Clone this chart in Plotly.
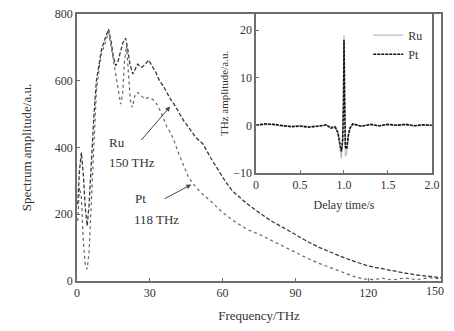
import plotly.graph_objects as go

# Main spectrum data (frequency THz, amplitude a.u.)
ru_freq = [0.3, 1.0, 1.8, 2.6, 3.4, 4.2, 5.0, 6.0, 7.0, 8.0, 9.0, 10.0, 11.0, 12.0, 13.0, 14.0, 15.0, 16.0, 17.0,
           18.0, 19.0, 20.0, 20.8, 21.8, 23.0, 24.0, 25.0, 26.5, 28.0, 29.5, 31.0, 32.5, 34.0, 35.5, 37.0, 38.5,
           40.0, 42.0, 44.0, 46.5, 49.0, 52.0, 55.0, 58.0, 61.0, 64.0, 67.0, 70.0, 75.0, 80.0, 85.0, 90.0, 95.0,
           100.0, 105.0, 110.0, 115.0, 120.0, 125.0, 130.0, 135.0, 140.0, 145.0, 150.0]
ru_amp = [230, 330, 385, 320, 220, 165, 230, 380, 500, 600, 650, 690, 715, 735, 755, 720, 670, 645, 660,
          690, 715, 728, 700, 650, 620, 635, 650, 640, 648, 662, 645, 625, 600, 585, 565, 545,
          530, 505, 480, 455, 430, 410, 370, 335, 300, 270, 250, 232, 205, 180, 160, 138, 118,
          100, 84, 70, 57, 45, 38, 30, 24, 18, 14, 10]

pt_freq = [0.3, 1.0, 1.8, 2.6, 3.4, 4.2, 5.0, 6.0, 7.0, 8.0, 9.0, 10.0, 11.0, 12.0, 13.0, 14.0, 15.0, 16.0, 17.0,
           18.0, 18.8, 19.6, 20.4, 21.2, 22.0, 22.8, 24.0, 25.0, 26.5, 28.0, 29.5, 31.0, 32.5, 34.0, 35.5, 37.0,
           38.5, 40.0, 42.0, 44.0, 46.0, 48.0, 51.0, 55.0, 60.0, 65.0, 70.0, 75.0, 80.0, 85.0, 90.0, 95.0, 100.0,
           105.0, 110.0, 114.0, 118.0, 122.0, 126.0, 130.0, 135.0, 140.0, 145.0, 150.0]
pt_amp = [180, 280, 250, 120, 50, 35, 90, 260, 430, 570, 630, 680, 700, 725, 745, 705, 660, 610, 570,
          530, 560, 660, 705, 630, 540, 520, 560, 565, 555, 545, 550, 545, 535, 515, 490, 462,
          445, 420, 380, 343, 310, 290, 265, 240, 205, 178, 155, 140, 122, 105, 85, 68, 52,
          38, 24, 14, 6, 4, 8, 3, 9, 4, 10, 6]

# Inset time-domain pulse (delay time s, THz amplitude a.u.)
ru_t = [0.0, 0.1, 0.2, 0.3, 0.4, 0.5, 0.6, 0.7, 0.8, 0.85, 0.9, 0.93, 0.95, 0.97, 0.985, 0.995, 1.0,
        1.005, 1.015, 1.03, 1.05, 1.07, 1.1, 1.2, 1.3, 1.4, 1.5, 1.6, 1.7, 1.8, 1.9, 2.0]
ru_sig = [0.0, 0.2, 0.1, -0.2, -0.1, 0.0, -0.2, -0.1, 0.0, -0.3, -0.2, -1.5, -4.0, -7.0, -4.0, 6.0, 19.0,
          6.0, -6.5, -6.0, -2.5, -0.6, 0.2, -0.1, 0.1, -0.1, 0.1, 0.0, 0.1, -0.1, 0.1, 0.0]
pt_t = [0.0, 0.1, 0.2, 0.3, 0.4, 0.5, 0.6, 0.7, 0.8, 0.85, 0.9, 0.93, 0.95, 0.97, 0.985, 0.995, 1.0,
        1.005, 1.015, 1.03, 1.05, 1.07, 1.1, 1.2, 1.3, 1.4, 1.5, 1.6, 1.7, 1.8, 1.9, 2.0]
pt_sig = [0.0, 0.3, 0.2, 0.0, -0.3, -0.2, -0.4, -0.2, 0.1, -0.6, -0.4, -1.5, -3.5, -5.5, -3.0, 5.0, 18.0,
          5.0, -4.5, -5.0, -2.0, -0.5, 0.3, -0.2, 0.2, -0.1, 0.2, 0.0, 0.2, -0.1, 0.1, 0.0]

x_ticks = [0, 30, 60, 90, 120, 150]
x_tick_text = ["0", "30", "60", "90", "120", ""]
last_x_tick = "150"
y_ticks = [0, 200, 400, 600, 800]
inset_x_ticks = [0, 0.5, 1.0, 1.5, 2.0]
inset_x_text = ["0", "0.5", "1.0", "1.5", "2.0"]
inset_y_ticks = [-10, 0, 10, 20]

FONT = "Liberation Serif"
AX = "#6e6e6e"

fig = go.Figure()
fig.add_trace(go.Scatter(x=ru_freq, y=ru_amp, mode="lines", name="Ru", showlegend=False,
                         line=dict(color="#3a3a3a", width=1.3, dash="4px,2px"), xaxis="x", yaxis="y"))
fig.add_trace(go.Scatter(x=pt_freq, y=pt_amp, mode="lines", name="Pt", showlegend=False,
                         line=dict(color="#666666", width=1.2, dash="3px,3px"), xaxis="x", yaxis="y"))
fig.add_trace(go.Scatter(x=ru_t, y=ru_sig, mode="lines", name="Ru",
                         line=dict(color="#bdbdbd", width=1.2), xaxis="x2", yaxis="y2"))
fig.add_trace(go.Scatter(x=pt_t, y=pt_sig, mode="lines", name="Pt",
                         line=dict(color="#111111", width=1.6, dash="3px,1px"), xaxis="x2", yaxis="y2"))

axis_common = dict(showline=True, linecolor=AX, linewidth=1.5, mirror=True, ticks="inside",
                   ticklen=3, tickcolor=AX, showgrid=False, zeroline=False, automargin=False,
                   ticklabeloverflow="allow",
                   tickfont=dict(family=FONT, size=12, color="#333"))

fig.update_layout(
    width=438, height=315,
    margin=dict(l=69, r=5, t=6, b=42, autoexpand=False),
    paper_bgcolor="white", plot_bgcolor="white",
    font=dict(family=FONT, color="#333"),
    xaxis=dict(range=[0, 150], tickvals=x_ticks, ticktext=x_tick_text, domain=[0, 1],
               title=dict(text="Frequency/THz", font=dict(family=FONT, size=13, color="#333"), standoff=14),
               **axis_common),
    yaxis=dict(range=[0, 800], tickvals=y_ticks, domain=[0, 1],
               title=dict(text="Spectrum amplitude/a.u.", font=dict(family=FONT, size=13, color="#333"), standoff=20),
               **axis_common),
    xaxis2=dict(range=[0, 2.0], tickvals=inset_x_ticks, ticktext=inset_x_text, domain=[0.492, 0.975],
                anchor="y2",
                title=dict(text="Delay time/s", font=dict(family=FONT, size=12, color="#333"), standoff=10),
                **axis_common),
    yaxis2=dict(range=[-10, 23.4], tickvals=inset_y_ticks, domain=[0.405, 1.0], anchor="x2",
                title=dict(text="THz amplitude/a.u.", font=dict(family=FONT, size=11, color="#333"), standoff=2),
                **axis_common),
    legend=dict(x=0.965, y=0.975, xanchor="right", yanchor="top", bgcolor="rgba(0,0,0,0)",
                font=dict(family=FONT, size=12, color="#333"), tracegroupgap=0, itemwidth=30),
)

# last x tick label, nudged left so it stays inside the window
fig.add_annotation(xref="x", yref="paper", x=x_ticks[-1], y=0, text=last_x_tick, showarrow=False,
                   xanchor="right", yanchor="top", xshift=5, yshift=-1,
                   font=dict(family=FONT, size=12, color="#333"))

anns = [
    dict(x=12.4, y=415, text="Ru", xanchor="left", yanchor="middle"),
    dict(x=12.4, y=355, text="150 THz", xanchor="left", yanchor="middle"),
    dict(x=23, y=246, text="Pt", xanchor="left", yanchor="middle"),
    dict(x=22.5, y=185, text="118 THz", xanchor="left", yanchor="middle"),
]
for a in anns:
    fig.add_annotation(xref="x", yref="y", showarrow=False,
                       font=dict(family=FONT, size=13, color="#333"), **a)

# arrows
fig.add_annotation(xref="x", yref="y", axref="x", ayref="y", x=38.4, y=523, ax=26, ay=418, text="",
                   showarrow=True, arrowhead=2, arrowsize=1, arrowwidth=1, arrowcolor="#444")
fig.add_annotation(xref="x", yref="y", axref="x", ayref="y", x=47.1, y=289, ax=35.5, ay=244, text="",
                   showarrow=True, arrowhead=2, arrowsize=1, arrowwidth=1, arrowcolor="#444")

fig.write_html("out.html")
